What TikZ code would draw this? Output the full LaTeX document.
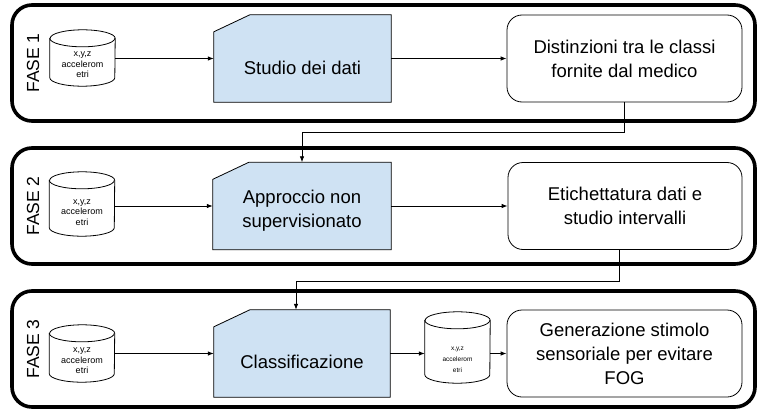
\documentclass[tikz,border=0pt]{standalone}
\usepackage{fontspec}
\setmainfont{Liberation Sans}
\usetikzlibrary{arrows.meta,calc,backgrounds}
\definecolor{cardblue}{HTML}{CFE2F3}
\tikzset{
  phase/.style={draw=black, line width=3.6pt, rounded corners=20pt},
  phaselabel/.style={rotate=90, font=\fontsize{17.5}{20}\selectfont, inner sep=0pt},
  cardbox/.style={minimum width=#1, minimum height=87pt, inner sep=0pt},
  cardtext/.style={align=center, inner sep=0pt, font=\fontsize{18.5}{24}\selectfont},
  roundbox/.style={draw, line width=0.8pt, rounded corners=15pt, minimum height=87pt,
    minimum width=235pt, inner sep=0pt, align=center, font=\fontsize{18.5}{24}\selectfont},
  cylbox/.style={minimum width=65pt, minimum height=#1, inner sep=0pt},
  cyltext/.style={align=center, inner sep=0pt, font=\fontsize{9}{10.5}\selectfont},
  smallcyltext/.style={align=center, inner sep=0pt, font=\fontsize{6.5}{11}\selectfont},
  conn/.style={line width=0.8pt, -{Latex[length=6pt,width=4.5pt]}},
}
\newcommand\drawcyl[1]{%
  \draw[line width=0.8pt, fill=white]
    ($(#1.north west)+(0,-8.5)$) -- ($(#1.south west)+(0,8.5)$)
    arc[start angle=180, end angle=360, x radius=32.5pt, y radius=8.5pt]
    -- ($(#1.north east)+(0,-8.5)$)
    arc[start angle=0, end angle=180, x radius=32.5pt, y radius=8.5pt] -- cycle;
  \draw[line width=0.8pt] ($(#1.north west)+(0,-8.5)$)
    arc[start angle=180, end angle=360, x radius=32.5pt, y radius=8.5pt];}
\newcommand\drawcard[1]{%
  \draw[line width=0.8pt, fill=cardblue]
    ($(#1.north west)+(0,-17)$) -- ($(#1.north west)+(36,0)$)
    -- (#1.north east) -- (#1.south east) -- (#1.south west) -- cycle;}
\begin{document}
\begin{tikzpicture}[x=1pt, y=1pt]
\useasboundingbox (0,0) rectangle (765,416);

% phase frames
\draw[phase] (12,411) rectangle (755,295);
\draw[phase] (12,268) rectangle (755,152);
\draw[phase] (12,125) rectangle (755,9);
\node[phaselabel] (L1) at (33,353) {FASE 1};
\node[phaselabel] (L2) at (33,210) {FASE 2};
\node[phaselabel] (L3) at (33,67) {FASE 3};

% phase 1
\node[cylbox=56pt] (c1) at (82.5,358) {};
\drawcyl{c1}
\node[cyltext] (t1) at (82.5,351) {x,y,z\\accelerom\\etri};
\node[cardbox=177pt] (s1) at (302.5,357.5) {};
\node[cardtext] (s1t) at (302.5,348.5) {Studio dei dati};
\node[roundbox] (d1) at (624.5,357.5) {Distinzioni tra le classi\\fornite dal medico};

% phase 2
\node[cylbox=64pt] (c2) at (82,212) {};
\drawcyl{c2}
\node[cyltext] (t2) at (82,203.5) {x,y,z\\accelerom\\etri};
\node[cardbox=178pt] (s2) at (302,210) {};
\node[cardtext] (s2t) at (302,205) {Approccio non\\supervisionato};
\node[roundbox, minimum width=234pt] (d2) at (625,210) {Etichettatura dati e\\studio intervalli};

% phase 3
\node[cylbox=57pt] (c3) at (82,62.5) {};
\drawcyl{c3}
\node[cyltext] (t3) at (82,55) {x,y,z\\accelerom\\etri};
\node[cardbox=176pt] (s3) at (302,62.5) {};
\node[cardtext] (s3t) at (302,54) {Classificazione};
\node[cylbox=71pt] (c4) at (457.5,68.5) {};
\drawcyl{c4}
\node[smallcyltext] (t4) at (457.5,56) {x,y,z\\accelerom\\etri};
\node[roundbox] (d3) at (624.5,62.5) {Generazione stimolo\\sensoriale per evitare\\FOG};

\begin{pgfonlayer}{background}
  \fill[white] (0,0) rectangle (765,416);
  \drawcard{s1}
  \drawcard{s2}
  \drawcard{s3}
\end{pgfonlayer}

% connectors
\draw[conn] (c1.east |- s1.west) -- (s1.west);
\draw[conn] (s1.east) -- (d1.west);
\draw[conn] (d1.south) -- ++(0,-30) -| (s2.north);
\draw[conn] (c2.east |- s2.west) -- (s2.west);
\draw[conn] (s2.east) -- (d2.west);
\draw[conn] ($(d2.south)+(-6,0)$) -- ++(0,-31) -| ($(s3.north)+(-6,0)$);
\draw[conn] (c3.east |- s3.west) -- (s3.west);
\draw[conn] (s3.east) -- (c4.west |- s3.east);
\draw[conn] (c4.east |- d3.west) -- (d3.west);
\end{tikzpicture}
\end{document}
